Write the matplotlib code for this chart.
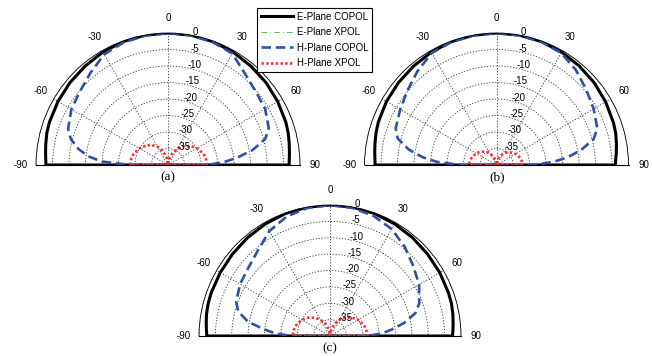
import numpy as np
import matplotlib
matplotlib.use("Agg")
import matplotlib.pyplot as plt
from matplotlib.transforms import offset_copy

plt.rcParams['font.family'] = ['Liberation Sans', 'DejaVu Sans']

# angles in degrees (0 = boresight)
angles = [-90, -87, -84, -80, -75, -70, -60, -50, -40, -30, -20, -10, 0,
          10, 20, 30, 40, 50, 60, 70, 75, 80, 84, 87, 90]

# panel (a), dB
a_e_copol = [-3.0, -2.9, -2.7, -2.4, -2.0, -1.8, -1.5, -1.2, -0.9, -0.5, -0.2, -0.05, 0,
             -0.05, -0.2, -0.5, -0.9, -1.2, -1.6, -2.0, -2.3, -2.7, -3.0, -3.2, -3.3]
a_h_copol = [-28.5, -20, -16, -12.5, -9.5, -7.8, -6.2, -5.2, -3.5, -1.3, -0.5, -0.2, 0,
             -0.1, -0.4, -1.0, -3.8, -5.3, -6.0, -7.5, -9.5, -14, -19, -23, -28.2]
a_h_xpol = [-28.5, -28.6, -28.6, -28.7, -28.9, -29.2, -30.0, -31.0, -32.0, -33.6, -35.5, -37.8, -40,
            -38.2, -36.3, -34.3, -32.6, -31.1, -29.9, -29.0, -28.6, -28.4, -28.3, -28.2, -28.2]

# panel (b)
b_e_copol = [-3.2, -3.1, -2.9, -2.6, -2.2, -1.9, -1.5, -1.2, -0.9, -0.5, -0.2, -0.05, 0,
             -0.05, -0.2, -0.5, -0.9, -1.3, -1.8, -2.3, -2.6, -3.1, -3.5, -3.8, -4.0]
b_h_copol = [-29, -22, -17.5, -13, -9, -7.5, -6.3, -4.8, -2.8, -0.8, -0.3, -0.1, 0,
             -0.1, -0.3, -0.8, -2.5, -4.5, -6.0, -7.5, -9.5, -14, -18.5, -23, -29]
b_h_xpol = [-31.7, -31.7, -31.8, -31.9, -32.1, -32.3, -32.9, -33.7, -34.7, -35.9, -37.2, -38.6, -40,
            -38.7, -37.4, -36.2, -35.0, -34.1, -33.3, -32.7, -32.5, -32.3, -32.2, -32.2, -32.2]

# panel (c)
c_e_copol = [-2.4, -2.2, -2.0, -1.7, -1.5, -1.4, -1.3, -1.1, -0.8, -0.5, -0.2, -0.05, 0,
             -0.05, -0.2, -0.5, -0.8, -1.1, -1.3, -1.5, -1.6, -1.9, -2.2, -2.4, -2.6]
c_h_copol = [-28, -23, -19.5, -14.5, -11, -9.5, -8.3, -7.5, -5.8, -3.0, -1.2, -0.3, 0,
             -0.3, -1.0, -2.3, -4.5, -6.8, -8.6, -11, -13, -17, -21, -24, -28.5]
c_h_xpol = [-28.7, -28.7, -28.7, -28.8, -29.0, -29.3, -30.1, -31.3, -32.7, -34.3, -36.1, -38.0, -40,
            -38.0, -36.1, -34.3, -32.7, -31.3, -30.1, -29.3, -29.0, -28.8, -28.7, -28.6, -28.5]

r_ticks = [-35, -30, -25, -20, -15, -10, -5, 0]
theta_ticks = [-90, -60, -30, 0, 30, 60, 90]
r_floor = -40

legend_labels = ['E-Plane COPOL', 'E-Plane XPOL', 'H-Plane COPOL', 'H-Plane XPOL']

fig = plt.figure(figsize=(6.53, 3.56), dpi=100)

W, H = 653.0, 356.0


def make_ax(cx, cy, R):
    # cx, cy: centre in pixels from top-left, R: radius in pixels
    rect = [(cx - R) / W, (H - cy - 0.5 * R) / H, 2 * R / W, 2 * R / H]
    ax = fig.add_axes(rect, projection='polar')
    ax.set_theta_zero_location('N')
    ax.set_theta_direction(-1)
    ax.set_thetamin(-90)
    ax.set_thetamax(90)
    ax.set_ylim(r_floor, 0)
    ax.patch.set_alpha(0)
    return ax


def draw_panel(ax, e_copol, h_copol, h_xpol):
    th = np.deg2rad([-90] + angles + [90])
    lines = []
    lines += ax.plot(th, [r_floor] + e_copol + [r_floor], color='black', lw=2.2,
                     solid_joinstyle='round')
    lines += ax.plot([], [], color='#66bb55', lw=0.7, linestyle=(0, (6, 3, 1, 3)))
    lines += ax.plot(th, [r_floor] + h_copol + [r_floor], color='#3050a8', lw=1.9,
                     linestyle=(0, (3.6, 1.8)))
    lines += ax.plot(th, [r_floor] + h_xpol + [r_floor], color='#ff2a2a', lw=1.9,
                     linestyle=(0, (0.9, 0.9)))

    ax.set_thetagrids(theta_ticks, [str(t) for t in theta_ticks])
    ax.set_rticks(r_ticks)
    ax.set_yticklabels([])
    ax.tick_params(axis='x', labelsize=7, pad=0.5)
    ax.grid(True, color='#333333', lw=0.6, linestyle=(0, (1.5, 2)))
    ax.spines['polar'].set_linewidth(0.6)
    ax.spines['start'].set_visible(False)
    ax.spines['end'].set_visible(False)

    tr = offset_copy(ax.transData, fig=fig, x=6, y=2, units='dots')
    for rv in r_ticks:
        ax.text(np.deg2rad(8), rv, str(rv), transform=tr, ha='left', va='center',
                fontsize=7)
    return lines


ax_a = make_ax(168, 165, 132)
handles = draw_panel(ax_a, a_e_copol, a_h_copol, a_h_xpol)

ax_b = make_ax(496.5, 165, 132)
draw_panel(ax_b, b_e_copol, b_h_copol, b_h_xpol)

ax_c = make_ax(330, 336, 131)
draw_panel(ax_c, c_e_copol, c_h_copol, c_h_xpol)

for x, y, s in [(168, 177, '(a)'), (497, 177, '(b)'), (330, 348, '(c)')]:
    fig.text(x / W, 1 - y / H, s, ha='center', va='center',
             family='Liberation Serif', fontsize=9.5)

leg = fig.legend(handles, legend_labels, loc='upper left',
                 bbox_to_anchor=(257 / W, 1 - 8 / H), bbox_transform=fig.transFigure,
                 fontsize=7, frameon=True, fancybox=False, edgecolor='black',
                 framealpha=1, handlelength=3.3, handletextpad=0.4,
                 labelspacing=0.55, borderpad=0.4, borderaxespad=0)
leg.get_frame().set_linewidth(0.8)

fig.savefig('out.png', dpi=100)
